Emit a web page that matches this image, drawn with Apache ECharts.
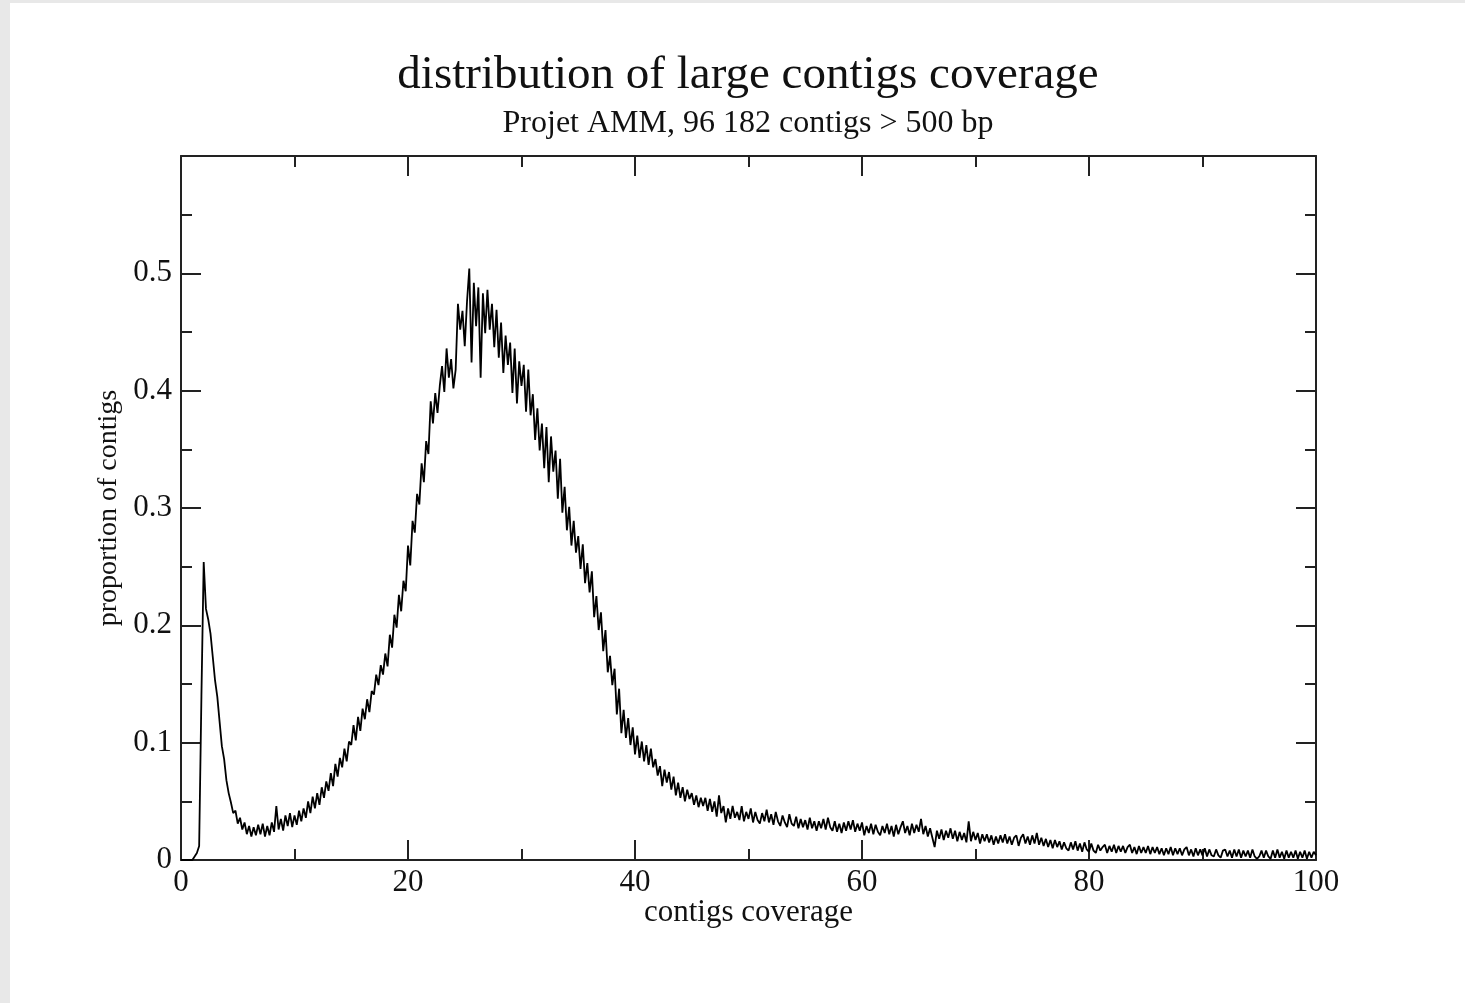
<!DOCTYPE html>
<html>
<head>
<meta charset="utf-8">
<script src="https://cdn.jsdelivr.net/npm/echarts@6/dist/echarts.min.js"></script>
<style>
  html, body { margin: 0; padding: 0; background: #e8e8e8; }
  #coverage {
    position: absolute;
    left: 10px;
    top: 3px;
    width: 1455px;
    height: 1000px;
    background: #fff;
  }
</style>
</head>
<body>
<div id="coverage"></div>
<script>
  // histogram of contig coverage, bins of 0.2 starting at 0
  var binStart = 0;
  var binWidth = 0.2;
  var proportion = [
    0.000, 0.000, 0.000, 0.000, 0.000,
    0.000, 0.003, 0.006, 0.012, 0.140,
    0.254, 0.214, 0.205, 0.193, 0.173,
    0.153, 0.139, 0.118, 0.097, 0.086,
    0.068, 0.057, 0.049, 0.040, 0.042,
    0.031, 0.036, 0.026, 0.032, 0.022,
    0.029, 0.020, 0.028, 0.021, 0.030,
    0.022, 0.031, 0.020, 0.029, 0.021,
    0.032, 0.024, 0.046, 0.026, 0.035,
    0.025, 0.038, 0.029, 0.040, 0.028,
    0.038, 0.030, 0.042, 0.033, 0.044,
    0.036, 0.050, 0.040, 0.054, 0.044,
    0.057, 0.047, 0.062, 0.053, 0.067,
    0.059, 0.074, 0.063, 0.082, 0.071,
    0.087, 0.079, 0.095, 0.084, 0.101,
    0.098, 0.115, 0.102, 0.122, 0.110,
    0.129, 0.120, 0.137, 0.126, 0.144,
    0.141, 0.158, 0.149, 0.166, 0.158,
    0.176, 0.165, 0.192, 0.181, 0.209,
    0.198, 0.226, 0.212, 0.238, 0.229,
    0.268, 0.251, 0.289, 0.279, 0.312,
    0.303, 0.338, 0.322, 0.357, 0.346,
    0.391, 0.372, 0.398, 0.381, 0.404,
    0.421, 0.399, 0.436, 0.411, 0.427,
    0.402, 0.418, 0.474, 0.452, 0.468,
    0.438, 0.476, 0.504, 0.424, 0.492,
    0.455, 0.488, 0.411, 0.483, 0.449,
    0.486, 0.452, 0.474, 0.437, 0.469,
    0.428, 0.458, 0.415, 0.447, 0.422,
    0.441, 0.398, 0.436, 0.389, 0.425,
    0.404, 0.422, 0.382, 0.418, 0.379,
    0.397, 0.358, 0.385, 0.349, 0.372,
    0.334, 0.369, 0.322, 0.361, 0.331,
    0.349, 0.308, 0.342, 0.296, 0.318,
    0.281, 0.301, 0.268, 0.289, 0.262,
    0.276, 0.248, 0.269, 0.236, 0.253,
    0.228, 0.246, 0.207, 0.225, 0.196,
    0.211, 0.178, 0.196, 0.160, 0.174,
    0.149, 0.163, 0.124, 0.146, 0.108,
    0.128, 0.104, 0.121, 0.098, 0.113,
    0.090, 0.106, 0.087, 0.101, 0.084,
    0.098, 0.081, 0.095, 0.079, 0.086,
    0.072, 0.080, 0.063, 0.077, 0.066,
    0.075, 0.060, 0.071, 0.055, 0.066,
    0.053, 0.062, 0.050, 0.060, 0.052,
    0.057, 0.047, 0.055, 0.045, 0.053,
    0.046, 0.053, 0.042, 0.052, 0.041,
    0.050, 0.037, 0.055, 0.040, 0.046,
    0.032, 0.044, 0.035, 0.046, 0.036,
    0.041, 0.034, 0.046, 0.033, 0.041,
    0.035, 0.044, 0.032, 0.041, 0.034,
    0.031, 0.040, 0.033, 0.043, 0.032,
    0.039, 0.030, 0.041, 0.033, 0.029,
    0.038, 0.032, 0.028, 0.039, 0.031,
    0.029, 0.037, 0.027, 0.035, 0.028,
    0.034, 0.026, 0.036, 0.027, 0.033,
    0.025, 0.033, 0.027, 0.035, 0.026,
    0.036, 0.028, 0.025, 0.033, 0.024,
    0.031, 0.023, 0.032, 0.025, 0.033,
    0.026, 0.034, 0.024, 0.031, 0.025,
    0.032, 0.021, 0.029, 0.023, 0.031,
    0.022, 0.030, 0.024, 0.021, 0.029,
    0.023, 0.031, 0.022, 0.029, 0.020,
    0.030, 0.022, 0.028, 0.033, 0.023,
    0.029, 0.021, 0.031, 0.023, 0.030,
    0.024, 0.035, 0.022, 0.029, 0.020,
    0.027, 0.019, 0.011, 0.025, 0.018,
    0.026, 0.017, 0.025, 0.019, 0.027,
    0.018, 0.025, 0.016, 0.024, 0.017,
    0.023, 0.015, 0.033, 0.016, 0.024,
    0.017, 0.023, 0.014, 0.022, 0.016,
    0.022, 0.015, 0.021, 0.013, 0.020,
    0.014, 0.021, 0.015, 0.022, 0.014,
    0.020, 0.013, 0.019, 0.021, 0.012,
    0.019, 0.022, 0.014, 0.020, 0.013,
    0.021, 0.014, 0.023, 0.013, 0.019,
    0.012, 0.018, 0.011, 0.017, 0.010,
    0.017, 0.011, 0.016, 0.009, 0.015,
    0.010, 0.008, 0.015, 0.009, 0.016,
    0.008, 0.014, 0.007, 0.015, 0.009,
    0.007, 0.014, 0.008, 0.006, 0.013,
    0.008, 0.011, 0.013, 0.006, 0.012,
    0.007, 0.013, 0.006, 0.012, 0.007,
    0.012, 0.006, 0.011, 0.013, 0.006,
    0.011, 0.005, 0.012, 0.006, 0.011,
    0.006, 0.012, 0.005, 0.011, 0.006,
    0.011, 0.005, 0.010, 0.004, 0.010,
    0.005, 0.011, 0.004, 0.010, 0.005,
    0.010, 0.004, 0.009, 0.011, 0.004,
    0.009, 0.003, 0.010, 0.004, 0.009,
    0.004, 0.010, 0.003, 0.009, 0.004,
    0.003, 0.009, 0.004, 0.002, 0.008,
    0.009, 0.003, 0.008, 0.002, 0.009,
    0.003, 0.009, 0.002, 0.008, 0.003,
    0.008, 0.002, 0.009, 0.003, 0.001,
    0.003, 0.008, 0.002, 0.008, 0.003,
    0.001, 0.008, 0.002, 0.009, 0.002,
    0.007, 0.001, 0.008, 0.002, 0.007,
    0.002, 0.008, 0.001, 0.007, 0.002,
    0.008, 0.001, 0.007, 0.002, 0.007,
    0.004
  ];
  var xTicks = [0, 20, 40, 60, 80, 100];
  var yTicks = [0, 0.1, 0.2, 0.3, 0.4, 0.5];

  var points = proportion.map(function (v, i) {
    return [+(binStart + i * binWidth).toFixed(1), v];
  });

  var serif = '"Liberation Serif", "DejaVu Serif", serif';
  var axisColor = '#222';

  function xAxisOpt(pos, labels) {
    return {
      type: 'value',
      position: pos,
      min: xTicks[0],
      max: xTicks[xTicks.length - 1],
      interval: 20,
      axisLine: { show: true, onZero: false, lineStyle: { color: axisColor, width: 2 } },
      axisTick: { show: true, inside: true, length: 20, lineStyle: { color: axisColor, width: 2 } },
      minorTick: { show: true, splitNumber: 2, length: 11, lineStyle: { color: axisColor, width: 2 } },
      splitLine: { show: false },
      axisLabel: {
        show: labels,
        margin: 7,
        color: '#111',
        fontFamily: serif,
        fontSize: 31
      },
      name: labels ? 'contigs coverage' : '',
      nameLocation: 'middle',
      nameGap: 37,
      nameMoveOverlap: false,
      nameTextStyle: { color: '#111', fontFamily: serif, fontSize: 31 }
    };
  }

  function yAxisOpt(pos, labels) {
    return {
      type: 'value',
      position: pos,
      min: 0,
      max: 0.6,
      interval: 0.1,
      axisLine: { show: true, onZero: false, lineStyle: { color: axisColor, width: 2 } },
      axisTick: { show: true, inside: true, length: 20, lineStyle: { color: axisColor, width: 2 } },
      minorTick: { show: true, splitNumber: 2, length: 11, lineStyle: { color: axisColor, width: 2 } },
      splitLine: { show: false },
      axisLabel: {
        show: labels,
        margin: 9,
        color: '#111',
        fontFamily: serif,
        fontSize: 31,
        formatter: function (v) {
          var r = Math.round(v * 10) / 10;
          return yTicks.indexOf(r) >= 0 ? String(r) : '';
        }
      },
      name: labels ? 'proportion of contigs' : '',
      nameLocation: 'middle',
      nameGap: 58,
      nameMoveOverlap: false,
      nameTextStyle: { color: '#111', fontFamily: serif, fontSize: 28 }
    };
  }

  var chart = echarts.init(document.getElementById('coverage'));
  chart.setOption({
    animation: false,
    backgroundColor: '#fff',
    title: [
      {
        text: 'distribution of large contigs coverage',
        left: 738,
        top: 49,
        padding: 0,
        textAlign: 'center',
        textStyle: { color: '#111', fontFamily: serif, fontSize: 47, fontWeight: 'normal' }
      },
      {
        text: 'Projet AMM, 96 182 contigs > 500 bp',
        left: 738,
        top: 105,
        padding: 0,
        textAlign: 'center',
        textStyle: { color: '#111', fontFamily: serif, fontSize: 32, fontWeight: 'normal' }
      }
    ],
    grid: { left: 171, right: 149, top: 153, bottom: 143, containLabel: false },
    xAxis: [xAxisOpt('bottom', true), xAxisOpt('top', false)],
    yAxis: [yAxisOpt('left', true), yAxisOpt('right', false)],
    series: [
      {
        type: 'line',
        data: points,
        showSymbol: false,
        sampling: null,
        lineStyle: { color: '#000', width: 1.8 },
        z: 1
      }
    ]
  });
</script>
</body>
</html>
